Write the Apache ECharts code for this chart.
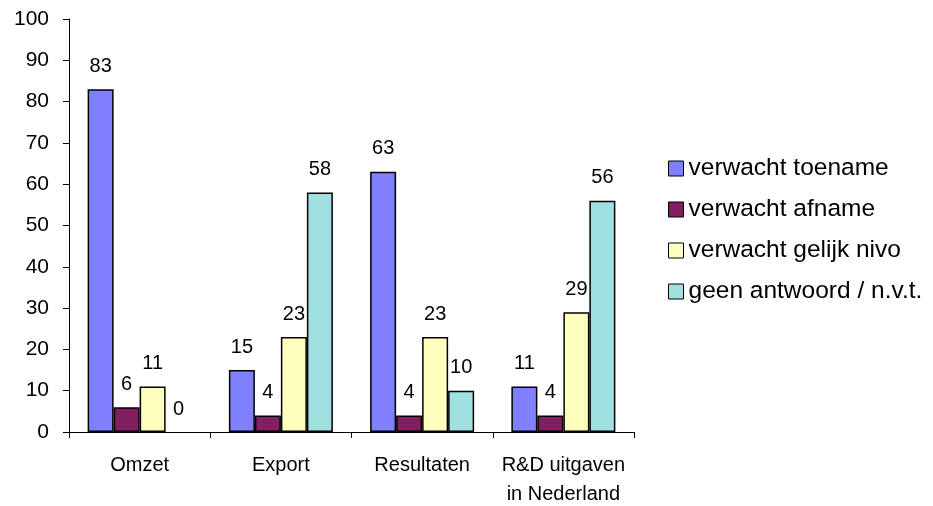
<!DOCTYPE html>
<html>
<head>
<meta charset="utf-8">
<script src="https://cdn.jsdelivr.net/npm/echarts@6/dist/echarts.min.js"></script>
<style>html,body{margin:0;padding:0;background:#fff}#c{width:933px;height:506px}</style>
</head>
<body>
<div id="c"></div>
<script>
var categories = ['Omzet', 'Export', 'Resultaten', 'R&D uitgaven\nin Nederland'];
var seriesNames = ['verwacht toename', 'verwacht afname', 'verwacht gelijk nivo', 'geen antwoord / n.v.t.'];
var toename = [83, 15, 63, 11];
var afname = [6, 4, 4, 4];
var gelijk = [11, 23, 23, 29];
var geen = [0, 58, 10, 56];
var colors = ['#8080FF', '#802060', '#FFFFC0', '#A0E0E0'];
var yTicks = [0, 100, 10];

var font = 'Liberation Sans, Arial, sans-serif';
var chart = echarts.init(document.getElementById('c'));
function mk(name, vals, color) {
  return {
    name: name, type: 'bar', barWidth: 26, barGap: '0%',
    data: vals.map(function (v) { return v === 0 ? { value: v, itemStyle: { borderWidth: 0 } } : v; }),
    itemStyle: { color: color, borderColor: '#000', borderWidth: 1.5 },
    label: { show: true, position: 'top', distance: 13, color: '#000', fontSize: 20, fontFamily: font },
    emphasis: { disabled: true }
  };
}
chart.setOption({
  animation: false,
  color: colors,
  grid: { left: 69, right: 299, top: 19, bottom: 74, containLabel: false, outerBoundsMode: 'none' },
  legend: {
    orient: 'vertical', left: 663, top: 151, itemWidth: 15, itemHeight: 15, itemGap: 16,
    icon: 'rect',
    itemStyle: { borderColor: '#000', borderWidth: 1 },
    textStyle: { fontSize: 24.5, fontFamily: font, color: '#000' },
    data: seriesNames
  },
  xAxis: {
    type: 'category', data: categories,
    axisLine: { lineStyle: { color: '#000', width: 1 } },
    axisTick: { show: true, length: 6, lineStyle: { color: '#000' } },
    axisLabel: { color: '#000', fontSize: 20, fontFamily: font, margin: 19, lineHeight: 29, interval: 0 }
  },
  yAxis: {
    type: 'value', min: yTicks[0], max: yTicks[1], interval: yTicks[2],
    axisLine: { show: true, lineStyle: { color: '#000', width: 1 } },
    axisTick: { show: true, length: 6, lineStyle: { color: '#000' } },
    splitLine: { show: false },
    axisLabel: { color: '#000', fontSize: 21, fontFamily: font, margin: 20 }
  },
  series: [
    mk(seriesNames[0], toename, colors[0]),
    mk(seriesNames[1], afname, colors[1]),
    mk(seriesNames[2], gelijk, colors[2]),
    mk(seriesNames[3], geen, colors[3])
  ]
});
</script>
</body>
</html>
